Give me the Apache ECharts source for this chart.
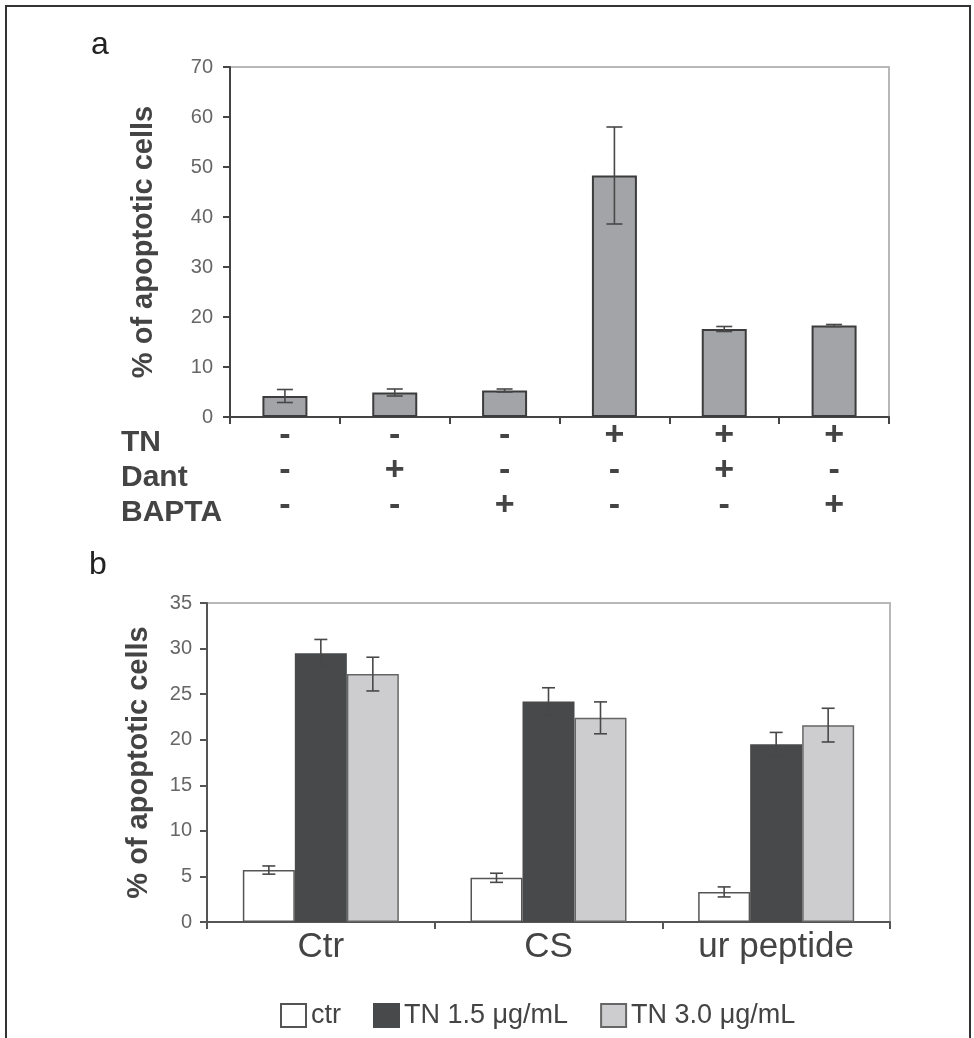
<!DOCTYPE html>
<html>
<head>
<meta charset="utf-8">
<script src="https://cdn.jsdelivr.net/npm/echarts@6/dist/echarts.min.js"></script>
<style>
html,body{margin:0;padding:0;background:#fff;}
#chart{width:974px;height:1038px;}
</style>
</head>
<body>
<div id="chart"></div>
<script>
// panel a: treatment rows and values
var tnRow    = ['-', '-', '-', '+', '+', '+'];
var dantRow  = ['-', '+', '-', '-', '+', '-'];
var baptaRow = ['-', '-', '+', '-', '-', '+'];
var valuesA  = [4.2, 4.9, 5.3, 48.3, 17.6, 18.3];
var errA     = [1.3, 0.7, 0.3, 9.7, 0.5, 0.2];

// panel b
var catsB    = ['Ctr', 'CS', 'ur peptide'];
var ctrVals  = [5.7, 4.85, 3.3];
var ctrErr   = [0.45, 0.5, 0.55];
var tn15Vals = [29.5, 24.2, 19.5];
var tn15Err  = [1.5, 1.5, 1.3];
var tn30Vals = [27.2, 22.4, 21.6];
var tn30Err  = [1.85, 1.75, 1.85];

var FONT = '"Liberation Sans", Arial, Helvetica, sans-serif';
var BAR_B = 52;

var catsA = tnRow.map(function (t, i) { return t + dantRow[i] + baptaRow[i]; });

function errSeries(xi, yi, vals, errs, offset, cap) {
    return {
        type: 'custom',
        xAxisIndex: xi,
        yAxisIndex: yi,
        z: 5,
        silent: true,
        data: vals.map(function (v, i) { return [i, v, errs[i]]; }),
        renderItem: function (params, api) {
            var x = api.value(0), v = api.value(1), e = api.value(2);
            var hi = api.coord([x, v + e]);
            var lo = api.coord([x, v - e]);
            var cx = hi[0] + offset;
            var st = { stroke: '#484848', lineWidth: 1.6 };
            return {
                type: 'group',
                children: [
                    { type: 'line', shape: { x1: cx, y1: hi[1], x2: cx, y2: lo[1] }, style: st },
                    { type: 'line', shape: { x1: cx - cap, y1: hi[1], x2: cx + cap, y2: hi[1] }, style: st },
                    { type: 'line', shape: { x1: cx - cap, y1: lo[1], x2: cx + cap, y2: lo[1] }, style: st }
                ]
            };
        }
    };
}

var chart = echarts.init(document.getElementById('chart'));

var option = {
    backgroundColor: '#fff',
    animation: false,
    textStyle: { fontFamily: FONT },
    title: [
        { text: 'a', left: 86, top: 24, textStyle: { fontFamily: FONT, fontSize: 32, fontWeight: 'normal', color: '#222' } },
        { text: 'b', left: 84, top: 544, textStyle: { fontFamily: FONT, fontSize: 32, fontWeight: 'normal', color: '#222' } },
        {
            text: 'TN\nDant\nBAPTA', left: 116, top: 420,
            textStyle: { fontFamily: FONT, fontSize: 30, fontWeight: 'bold', color: '#444', lineHeight: 35 }
        }
    ],
    graphic: [
        {
            type: 'polyline',
            silent: true,
            shape: { points: [[6, 1038], [6, 6], [970, 6], [970, 1038]] },
            style: { stroke: '#333', lineWidth: 2, fill: null }
        }
    ],
    legend: {
        left: 275,
        top: 997,
        icon: 'rect',
        itemWidth: 25,
        itemHeight: 23,
        itemGap: 32,
        textStyle: { fontFamily: FONT, fontSize: 27, color: '#444' },
        data: ['ctr', 'TN 1.5 \u03bcg/mL', 'TN 3.0 \u03bcg/mL']
    },
    grid: [
        { left: 230, right: 85, top: 67, bottom: 621, show: true, borderColor: '#b8b8b8', borderWidth: 2, outerBoundsMode: 'none' },
        { left: 207, right: 84, top: 603, bottom: 116, show: true, borderColor: '#b8b8b8', borderWidth: 2, outerBoundsMode: 'none' }
    ],
    xAxis: [
        {
            type: 'category',
            gridIndex: 0,
            data: catsA,
            axisLine: { lineStyle: { color: '#444', width: 2 } },
            axisTick: { show: true, length: 7, lineStyle: { color: '#444', width: 2 } },
            axisLabel: {
                margin: 1,
                formatter: function (val, idx) {
                    return '{s|' + tnRow[idx] + '}\n{s|' + dantRow[idx] + '}\n{s|' + baptaRow[idx] + '}';
                },
                rich: {
                    s: { fontFamily: FONT, fontSize: 34, fontWeight: 'bold', color: '#444', lineHeight: 35 }
                }
            }
        },
        {
            type: 'category',
            gridIndex: 1,
            data: catsB,
            axisLine: { lineStyle: { color: '#555', width: 2 } },
            axisTick: { show: true, length: 7, lineStyle: { color: '#555', width: 2 } },
            axisLabel: { margin: 8, fontFamily: FONT, fontSize: 35, color: '#444' }
        }
    ],
    yAxis: [
        {
            type: 'value',
            gridIndex: 0,
            min: 0, max: 70, interval: 10,
            name: '% of apoptotic cells',
            nameLocation: 'middle',
            nameGap: 72,
            nameTextStyle: { fontFamily: FONT, fontSize: 29, fontWeight: 'bold', color: '#444' },
            splitLine: { show: false },
            axisLine: { show: true, lineStyle: { color: '#444', width: 2 } },
            axisTick: { show: true, length: 7, lineStyle: { color: '#444', width: 2 } },
            axisLabel: { margin: 17, fontFamily: FONT, fontSize: 20, color: '#666' }
        },
        {
            type: 'value',
            gridIndex: 1,
            min: 0, max: 35, interval: 5,
            name: '% of apoptotic cells',
            nameLocation: 'middle',
            nameGap: 54,
            nameTextStyle: { fontFamily: FONT, fontSize: 29, fontWeight: 'bold', color: '#444' },
            splitLine: { show: false },
            axisLine: { show: true, lineStyle: { color: '#555', width: 2 } },
            axisTick: { show: true, length: 7, lineStyle: { color: '#555', width: 2 } },
            axisLabel: { margin: 15, fontFamily: FONT, fontSize: 20, color: '#666' }
        }
    ],
    series: [
        {
            name: 'a',
            type: 'bar',
            xAxisIndex: 0, yAxisIndex: 0,
            barWidth: 45,
            itemStyle: { color: '#a3a4a8', borderColor: '#3c3c3c', borderWidth: 2 },
            data: valuesA
        },
        errSeries(0, 0, valuesA, errA, 0, 8),
        {
            name: 'ctr',
            type: 'bar',
            xAxisIndex: 1, yAxisIndex: 1,
            barWidth: BAR_B, barGap: '0%',
            itemStyle: { color: '#ffffff', borderColor: '#555', borderWidth: 1.5 },
            data: ctrVals
        },
        {
            name: 'TN 1.5 \u03bcg/mL',
            type: 'bar',
            xAxisIndex: 1, yAxisIndex: 1,
            barWidth: BAR_B, barGap: '0%',
            itemStyle: { color: '#48494b', borderColor: '#48494b', borderWidth: 1.5 },
            data: tn15Vals
        },
        {
            name: 'TN 3.0 \u03bcg/mL',
            type: 'bar',
            xAxisIndex: 1, yAxisIndex: 1,
            barWidth: BAR_B, barGap: '0%',
            itemStyle: { color: '#cdcdcf', borderColor: '#666', borderWidth: 1.5 },
            data: tn30Vals
        },
        errSeries(1, 1, ctrVals, ctrErr, -BAR_B, 6.5),
        errSeries(1, 1, tn15Vals, tn15Err, 0, 6.5),
        errSeries(1, 1, tn30Vals, tn30Err, BAR_B, 6.5)
    ]
};

chart.setOption(option);
</script>
</body>
</html>
